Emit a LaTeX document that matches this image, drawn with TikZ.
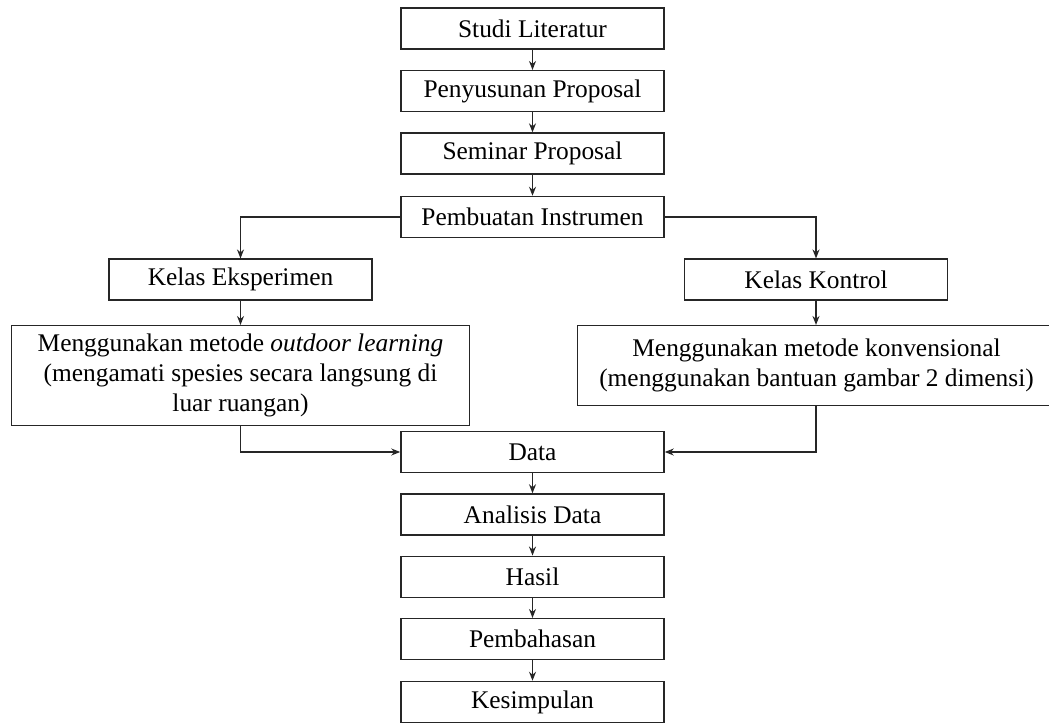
\documentclass[tikz,border=0pt]{standalone}
\usepackage{fontspec}
\setmainfont{Liberation Serif}
\usetikzlibrary{arrows.meta,positioning}
\tikzset{
  box/.style={draw=black!85, line width=1.5pt, rectangle, align=center,
    font=\fontsize{25.4}{30}\selectfont, inner sep=2pt, text=black},
  cbox/.style={box, minimum width=263pt, minimum height=41pt},
  arr/.style={draw=black!85, line width=1.3pt, -{Stealth[length=9pt,width=7pt]}}
}
\begin{document}
\begin{tikzpicture}[x=1pt,y=-1pt]
\useasboundingbox (0,0) rectangle (1049,727);
\node[cbox] (sl) at (532.5,28.7) {Studi Literatur};
\node[cbox] (pp) at (532.5,91.2) {Penyusunan Proposal};
\node[cbox] (sp) at (532.5,153.6) {Seminar Proposal};
\node[cbox] (pi) at (532.5,217) {Pembuatan Instrumen};
\node[cbox] (ke) at (240.5,279.7) {Kelas Eksperimen};
\node[cbox] (kk) at (816,279.7) {Kelas Kontrol};
\node[box, minimum width=457.6pt, minimum height=100pt] (lb) at (240.5,375.7)
  {Menggunakan metode \textit{outdoor learning}\\(mengamati spesies secara langsung di\\luar ruangan)};
\node[box, minimum width=478pt, minimum height=80pt] (rb) at (816.5,365.7)
  {Menggunakan metode konvensional\\(menggunakan bantuan gambar 2 dimensi)};
\node[cbox] (da) at (532.5,452) {Data};
\node[cbox] (ad) at (532.5,514.5) {Analisis Data};
\node[cbox] (ha) at (532.5,576.8) {Hasil};
\node[cbox] (pb) at (532.5,639.2) {Pembahasan};
\node[cbox] (ks) at (532.5,702) {Kesimpulan};
\draw[arr] (sl) -- (pp);
\draw[arr] (pp) -- (sp);
\draw[arr] (sp) -- (pi);
\draw[arr] (pi.west) -| (ke.north);
\draw[arr] (pi.east) -| (kk.north);
\draw[arr] (ke) -- (lb);
\draw[arr] (kk) -- (rb.north -| kk.south);
\draw[arr] (lb.south) |- (da.west);
\draw[arr] (rb.south -| kk.south) |- (da.east);
\draw[arr] (da) -- (ad);
\draw[arr] (ad) -- (ha);
\draw[arr] (ha) -- (pb);
\draw[arr] (pb) -- (ks);
\end{tikzpicture}
\end{document}
